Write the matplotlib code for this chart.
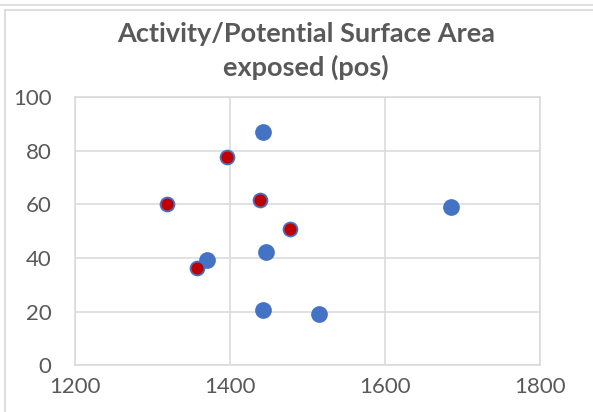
import matplotlib.pyplot as plt
from matplotlib.lines import Line2D

# Values
blue_x = [1442, 1685, 1447, 1370, 1443, 1515]
blue_y = [86.8, 59.2, 42.2, 39.4, 20.5, 19.0]
red_x = [1396, 1319, 1439, 1477, 1357]
red_y = [77.7, 60.0, 61.5, 50.9, 36.2]

x_ticks = [1200, 1400, 1600, 1800]
y_ticks = [0, 20, 40, 60, 80, 100]

title = "Activity/Potential Surface Area\nexposed (pos)"

excel_blue = "#4472C4"
excel_red = "#C00000"
grid_gray = "#D9D9D9"
text_gray = "#595959"

plt.rcParams["font.family"] = ["Lato", "DejaVu Sans"]

fig = plt.figure(figsize=(5.93, 4.12), dpi=100)
ax = fig.add_axes([0.1265, 0.1129, 0.7841, 0.6517])

ax.scatter(blue_x, blue_y, s=145, color=excel_blue, zorder=3, linewidths=0)
ax.scatter(red_x, red_y, s=100, color=excel_red, edgecolors=excel_blue,
           linewidths=1.3, zorder=4)

ax.set_xlim(1200, 1800)
ax.set_ylim(0, 100)
ax.set_xticks(x_ticks)
ax.set_yticks(y_ticks)
ax.grid(True, color=grid_gray, linewidth=1.1, zorder=0)
ax.set_axisbelow(True)
for side in ax.spines.values():
    side.set_color(grid_gray)
    side.set_linewidth(1.1)
ax.tick_params(length=0, labelsize=16, colors=text_gray, pad=8)
ax.tick_params(axis="y", pad=17)

fig.text(0.516, 0.877, title, ha="center", va="center", fontsize=19.5,
         fontweight="bold", color=text_gray, linespacing=1.4)

# chart area border
fig.add_artist(Line2D([0, 1], [1 - 4.5 / 412, 1 - 4.5 / 412], color=grid_gray, lw=1.2))
fig.add_artist(Line2D([5 / 593, 1], [1 - 10 / 412, 1 - 10 / 412], color=grid_gray, lw=1.2))
fig.add_artist(Line2D([5 / 593, 5 / 593], [0, 1 - 10 / 412], color=grid_gray, lw=1.2))

plt.savefig("out.png", dpi=100)
